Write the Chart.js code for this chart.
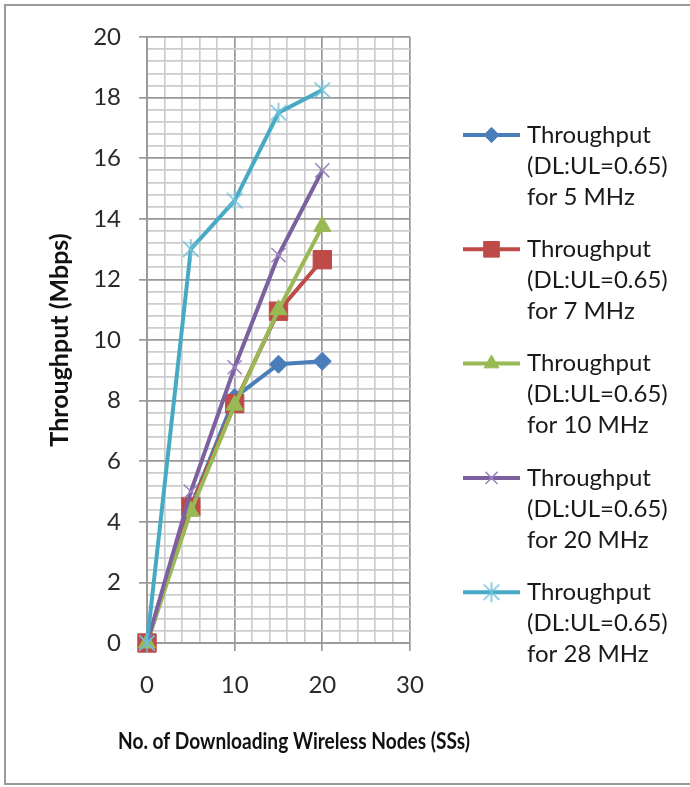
<!DOCTYPE html>
<html>
<head>
  <meta http-equiv="Content-type" content="text/html; charset=utf-8">
  <title>Throughput vs Downloading Wireless Nodes</title>
  <style>
    body { margin: 0; background: #fff; }
    #wrap { width: 690px; height: 787px; }
  </style>
</head>
<body>
  <div id="wrap">
    <canvas id="canvas" width="690" height="787"></canvas>
  </div>

  <script src="https://cdn.jsdelivr.net/npm/chart.js"></script>

  <script>
    // Data
    const nodes = [0, 5, 10, 15, 20];
    const bandwidths = ['5 MHz', '7 MHz', '10 MHz', '20 MHz', '28 MHz'];
    const tp5MHz  = [0, 4.5, 8.1, 9.2, 9.3];
    const tp7MHz  = [0, 4.5, 7.9, 10.95, 12.65];
    const tp10MHz = [0, 4.35, 7.85, 11.0, 13.75];
    const tp20MHz = [0, 5.0, 9.1, 12.8, 15.6];
    const tp28MHz = [0, 13.0, 14.6, 17.5, 18.25];
    const seriesValues = [tp5MHz, tp7MHz, tp10MHz, tp20MHz, tp28MHz];

    const xTitle = 'No. of Downloading Wireless Nodes (SSs)';
    const yTitle = 'Throughput (Mbps)';

    // Excel 2007 palette
    const colors = ['#4A7EBB', '#BE4B48', '#98B954', '#7D60A0', '#46AAC5'];
    const markerColors = ['#4A7EBB', '#BE4B48', '#98B954', '#9A86BE', '#6CC0D8'];

    // Excel "star" marker: an X with a vertical stroke
    function asteriskMarker(color, r) {
      const cv = document.createElement('canvas');
      cv.width = cv.height = 2 * r + 2;
      const c = cv.getContext('2d');
      const m = r + 1, d = r * 0.78;
      c.strokeStyle = color;
      c.lineWidth = 1.5;
      c.beginPath();
      c.moveTo(m - d, m - d); c.lineTo(m + d, m + d);
      c.moveTo(m + d, m - d); c.lineTo(m - d, m + d);
      c.moveTo(m, m - r); c.lineTo(m, m + r);
      c.stroke();
      return cv;
    }

    const pointStyles = ['rectRot', 'rect', 'triangle', 'crossRot', asteriskMarker(markerColors[4], 10)];
    const pointRadius = [9, 13, 10, 10, 10];

    const FONT = 'Lato, "Liberation Sans", sans-serif';
    const isStep = (v, s) => Math.abs(v / s - Math.round(v / s)) < 1e-6;

    const datasets = seriesValues.map((vals, i) => ({
      label: 'Throughput (DL:UL=0.65) for ' + bandwidths[i],
      data: vals.map((v, j) => ({ x: nodes[j], y: v })),
      borderColor: colors[i],
      backgroundColor: markerColors[i],
      borderWidth: 4,
      pointStyle: pointStyles[i],
      pointRadius: pointRadius[i],
      pointHoverRadius: pointRadius[i],
      pointBackgroundColor: markerColors[i],
      pointBorderColor: markerColors[i],
      pointBorderWidth: i >= 3 ? 1.5 : 1,
      tension: 0,
      clip: false,
      order: seriesValues.length - i   // later series on top, like Excel
    }));

    // Grey chart-area frame
    const framePlugin = {
      id: 'frame',
      beforeDraw(chart) {
        const c = chart.ctx;
        c.save();
        c.strokeStyle = '#9a9a9a';
        c.lineWidth = 2;
        c.strokeRect(5, 5, 720, 779);
        c.restore();
      }
    };

    // x axis title: Excel centres it a bit right of the plot and it is narrower than Lato
    const xTitlePlugin = {
      id: 'xTitle',
      afterDraw(chart) {
        const c = chart.ctx;
        c.save();
        c.font = 'bold 23px ' + FONT;
        c.fillStyle = '#111';
        c.textAlign = 'center';
        c.textBaseline = 'middle';
        c.fillText(xTitle, 294, 742, 352);
        c.restore();
      }
    };

    // Legend with three-line labels, marker on first line
    const legendPlugin = {
      id: 'sideLegend',
      afterDraw(chart) {
        const c = chart.ctx;
        const x0 = 463, x1 = 520, tx = 527;
        const top = 135, entryGap = 114.3, lineGap = 31;
        c.save();
        c.font = '24px ' + FONT;
        c.textBaseline = 'middle';
        c.textAlign = 'left';
        chart.data.datasets.forEach((ds, i) => {
          const y = top + i * entryGap;
          c.strokeStyle = ds.borderColor;
          c.lineWidth = 4;
          c.beginPath();
          c.moveTo(x0, y);
          c.lineTo(x1, y);
          c.stroke();
          c.fillStyle = ds.pointBackgroundColor;
          c.strokeStyle = ds.pointBorderColor;
          c.lineWidth = ds.pointBorderWidth;
          Chart.helpers.drawPoint(c, {
            pointStyle: ds.pointStyle,
            radius: ds.pointRadius * 0.85,
            rotation: 0,
            borderWidth: ds.pointBorderWidth
          }, (x0 + x1) / 2, y);
          c.fillStyle = '#1a1a1a';
          const lines = ['Throughput', '(DL:UL=0.65)', 'for ' + bandwidths[i]];
          lines.forEach((t, k) => c.fillText(t, tx, y + k * lineGap));
        });
        c.restore();
      }
    };

    const ctx = document.getElementById('canvas').getContext('2d');
    const chart = new Chart(ctx, {
      type: 'line',
      data: { datasets: datasets },
      plugins: [framePlugin, xTitlePlugin, legendPlugin],
      options: {
        responsive: false,
        animation: false,
        devicePixelRatio: 1,
        layout: { padding: { left: 0, top: 37, right: 280, bottom: 0 } },
        plugins: {
          legend: { display: false },
          tooltip: { enabled: false }
        },
        scales: {
          x: {
            type: 'linear',
            min: 0,
            max: 30,
            afterFit: (s) => { s.height = 144; },
            ticks: {
              stepSize: 2,
              autoSkip: false,
              maxRotation: 0,
              padding: 20,
              color: '#2a2a2a',
              font: { family: FONT, size: 24 },
              callback: (v) => isStep(v, 10) ? String(Math.round(v)) : ''
            },
            grid: {
              color: (c) => isStep(c.tick.value, 10) ? '#999999' : '#cdcdcd',
              lineWidth: 1.7,
              tickLength: 8,
              tickColor: (c) => isStep(c.tick.value, 10) ? '#999999' : 'rgba(0,0,0,0)'
            },
            border: { display: true, color: '#9a9a9a', width: 2 },
            title: { display: false }
          },
          y: {
            type: 'linear',
            min: 0,
            max: 20,
            afterFit: (s) => { s.width = 147; },
            ticks: {
              stepSize: 0.4,
              autoSkip: false,
              maxTicksLimit: 100,
              padding: 18,
              color: '#2a2a2a',
              font: { family: FONT, size: 24 },
              callback: (v) => isStep(v, 2) ? String(Math.round(v)) : ''
            },
            grid: {
              color: (c) => isStep(c.tick.value, 2) ? '#999999' : '#cdcdcd',
              lineWidth: 1.7,
              tickLength: 8,
              tickColor: (c) => isStep(c.tick.value, 2) ? '#999999' : 'rgba(0,0,0,0)'
            },
            border: { display: true, color: '#9a9a9a', width: 2 },
            title: {
              display: true,
              text: yTitle,
              color: '#111',
              font: { family: FONT, size: 25, weight: 'bold' },
              padding: { top: 45, bottom: 0 }
            }
          }
        }
      }
    });
  </script>
</body>
</html>
